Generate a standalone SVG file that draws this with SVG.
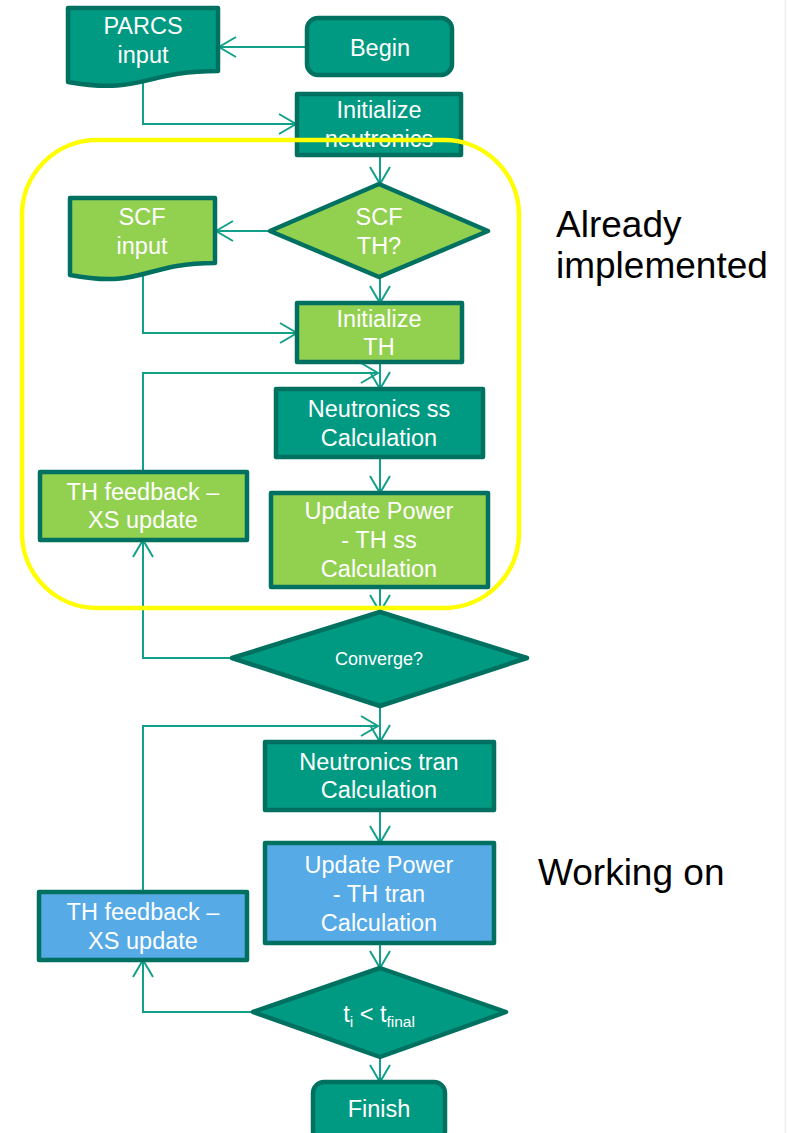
<svg xmlns="http://www.w3.org/2000/svg" width="787" height="1133" viewBox="0 0 787 1133">
  <defs>
    <style>
      .teal { fill: #009a82; stroke: #007161; stroke-width: 4.5; stroke-linejoin: round; }
      .green { fill: #92d050; stroke: #007161; stroke-width: 4.5; stroke-linejoin: round; }
      .blue { fill: #56aae6; stroke: #007161; stroke-width: 4.5; stroke-linejoin: round; }
      .lbl { font-family: "Liberation Sans", Arial, sans-serif; font-size: 23.5px; fill: #ffffff; text-anchor: middle; }
      .small { font-size: 18px; }
      .note { font-family: "Liberation Sans", Arial, sans-serif; font-size: 37px; fill: #000000; }
      .conn { fill: none; stroke: #12a08a; stroke-width: 2; }
    </style>
    <marker id="chev" markerUnits="userSpaceOnUse" markerWidth="20" markerHeight="22" viewBox="-1 -1 20 22" refX="17" refY="10" orient="auto">
      <path d="M0,0 L17,10 L0,20" fill="none" stroke="#12a08a" stroke-width="2"/>
    </marker>
  </defs>

  <rect width="787" height="1133" fill="#ffffff"/>
  <line x1="785.5" y1="0" x2="785.5" y2="1133" stroke="#efefef" stroke-width="1.5"/>

  <!-- connectors -->
  <g id="connectors">
    <path class="conn" d="M307,47 H219" marker-end="url(#chev)"/>
    <path class="conn" d="M143,81 V124 H296" marker-end="url(#chev)"/>
    <path class="conn" d="M380,155 V184" marker-end="url(#chev)"/>
    <path class="conn" d="M270,231 H216" marker-end="url(#chev)"/>
    <path class="conn" d="M143,274 V333 H297" marker-end="url(#chev)"/>
    <path class="conn" d="M380,277 V303" marker-end="url(#chev)"/>
    <path class="conn" d="M380,362 V389" marker-end="url(#chev)"/>
    <path class="conn" d="M143,472 V373 H378" marker-end="url(#chev)"/>
    <path class="conn" d="M380,457 V493" marker-end="url(#chev)"/>
    <path class="conn" d="M380,587 V612" marker-end="url(#chev)"/>
    <path class="conn" d="M232,658 H143 V540" marker-end="url(#chev)"/>
    <path class="conn" d="M380,706 V742" marker-end="url(#chev)"/>
    <path class="conn" d="M143,892 V726 H378" marker-end="url(#chev)"/>
    <path class="conn" d="M380,810 V843" marker-end="url(#chev)"/>
    <path class="conn" d="M380,943 V968" marker-end="url(#chev)"/>
    <path class="conn" d="M253,1012 H143 V960" marker-end="url(#chev)"/>
    <path class="conn" d="M380,1057 V1082" marker-end="url(#chev)"/>
  </g>

  <!-- steady-state part -->
  <g id="parcs-input">
    <path class="teal" d="M68,8 H218 V71 C143,71 143,95 68,82 Z"/>
    <text class="lbl" x="143" y="34">PARCS</text>
    <text class="lbl" x="143" y="63">input</text>
  </g>
  <g id="begin">
    <rect class="teal" x="307" y="18" width="145" height="57" rx="11"/>
    <text class="lbl" x="380" y="56">Begin</text>
  </g>
  <g id="init-neutronics">
    <rect class="teal" x="297" y="94" width="164" height="61"/>
    <text class="lbl" x="379" y="118">Initialize</text>
    <text class="lbl" x="379" y="147">neutronics</text>
  </g>
  <g id="scf-th">
    <polygon class="green" points="379,184 488,231 379,277 270,231"/>
    <text class="lbl" x="379" y="225">SCF</text>
    <text class="lbl" x="379" y="254">TH?</text>
  </g>
  <g id="scf-input">
    <path class="green" d="M70,198 H215 V263 C143,263 143,289 70,275 Z"/>
    <text class="lbl" x="142" y="225">SCF</text>
    <text class="lbl" x="142" y="254">input</text>
  </g>
  <g id="init-th">
    <rect class="green" x="297" y="303" width="165" height="59"/>
    <text class="lbl" x="379" y="327">Initialize</text>
    <text class="lbl" x="379" y="355">TH</text>
  </g>
  <g id="neutronics-ss">
    <rect class="teal" x="276" y="389" width="207" height="68"/>
    <text class="lbl" x="379" y="417">Neutronics ss</text>
    <text class="lbl" x="379" y="446">Calculation</text>
  </g>
  <g id="update-ss">
    <rect class="green" x="271" y="493" width="217" height="94"/>
    <text class="lbl" x="379" y="519">Update Power</text>
    <text class="lbl" x="379" y="548">- TH ss</text>
    <text class="lbl" x="379" y="577">Calculation</text>
  </g>
  <g id="feedback-ss">
    <rect class="green" x="40" y="472" width="207" height="68"/>
    <text class="lbl" x="143" y="500">TH feedback –</text>
    <text class="lbl" x="143" y="528">XS update</text>
  </g>

  <!-- region marker for the finished part -->
  <rect id="done-region" x="22" y="140" width="497" height="468" rx="75" fill="none" stroke="#ffff00" stroke-width="4.5"/>

  <g id="converge">
    <polygon class="teal" points="380,612 527,658 380,706 232,658"/>
    <text class="lbl small" x="379" y="665">Converge?</text>
  </g>

  <!-- transient part -->
  <g id="neutronics-tran">
    <rect class="teal" x="265" y="742" width="229" height="68"/>
    <text class="lbl" x="379" y="770">Neutronics tran</text>
    <text class="lbl" x="379" y="798">Calculation</text>
  </g>
  <g id="update-tran">
    <rect class="blue" x="265" y="843" width="229" height="100"/>
    <text class="lbl" x="379" y="873">Update Power</text>
    <text class="lbl" x="379" y="902">- TH tran</text>
    <text class="lbl" x="379" y="931">Calculation</text>
  </g>
  <g id="feedback-tran">
    <rect class="blue" x="39" y="892" width="208" height="68"/>
    <text class="lbl" x="143" y="920">TH feedback –</text>
    <text class="lbl" x="143" y="949">XS update</text>
  </g>
  <g id="time-check">
    <polygon class="teal" points="380,968 506,1012 380,1057 253,1012"/>
    <text class="lbl" x="379" y="1022">t<tspan font-size="15.5" dy="5">i</tspan><tspan dy="-5"> &lt; t</tspan><tspan font-size="15.5" dy="5">final</tspan></text>
  </g>
  <g id="finish">
    <rect class="teal" x="313" y="1082" width="132" height="60" rx="11"/>
    <text class="lbl" x="379" y="1117">Finish</text>
  </g>

  <!-- side notes -->
  <text class="note" x="556" y="237">Already</text>
  <text class="note" x="556" y="278">implemented</text>
  <text class="note" x="538" y="885">Working on</text>
</svg>
